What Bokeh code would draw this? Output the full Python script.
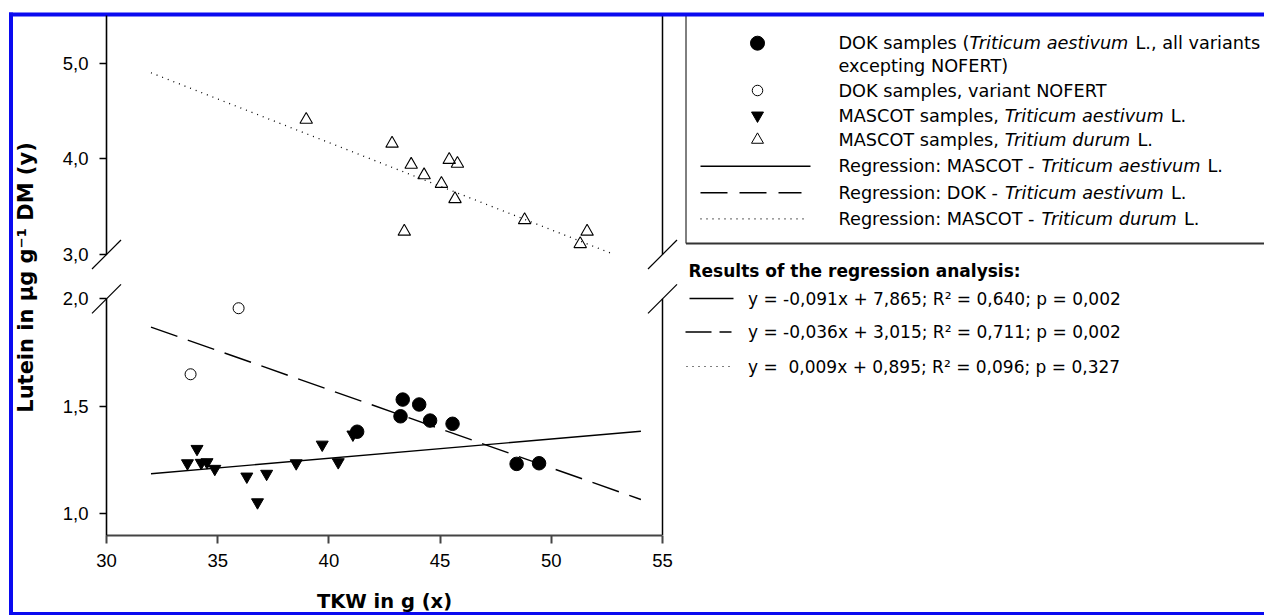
import math
from bokeh.plotting import figure
from bokeh.models import Range1d, LinearAxis, FixedTicker, CustomJSTickFormatter
from bokeh.core.properties import value
from bokeh.embed import file_html
from bokeh.resources import INLINE

# ---------------- data ----------------
x_ticks = [30, 35, 40, 45, 50, 55]
x_tick_labels = ["30", "35", "40", "45", "50", "55"]
y_ticks_lower = [1.0, 1.5, 2.0]
y_tick_labels_lower = ["1,0", "1,5", "2,0"]
y_ticks_upper = [3.0, 4.0, 5.0]
y_tick_labels_upper = ["3,0", "4,0", "5,0"]

# DOK samples (Triticum aestivum L., all variants excepting NOFERT)
dok_x = [43.32, 44.06, 43.22, 44.55, 45.56, 41.27, 48.44, 49.45]
dok_y = [1.530, 1.507, 1.452, 1.432, 1.417, 1.380, 1.230, 1.233]
# DOK samples, variant NOFERT
nofert_x = [35.94, 33.78]
nofert_y = [1.956, 1.648]
# MASCOT samples, Triticum aestivum L.
mascot_aest_x = [33.64, 34.07, 34.26, 34.52, 34.87, 36.31, 37.20, 36.79, 38.53, 39.70, 40.42, 41.08]
mascot_aest_y = [1.233, 1.300, 1.235, 1.238, 1.207, 1.171, 1.184, 1.051, 1.233, 1.320, 1.238, 1.367]
# MASCOT samples, Tritium durum L.
durum_x = [38.98, 42.84, 43.70, 44.28, 45.06, 45.41, 45.78, 45.67, 43.39, 48.80, 51.30, 51.61]
durum_y = [4.41, 4.16, 3.94, 3.83, 3.74, 3.99, 3.95, 3.58, 3.24, 3.36, 3.11, 3.24]

# regression lines (end points)
reg_aest_x = [32.0, 54.03]
reg_aest_y = [1.184, 1.382]
reg_dok_x = [32.0, 54.03]
reg_dok_y = [1.868, 1.064]
reg_durum_x = [32.0, 52.72]
reg_durum_y = [4.90, 3.01]

legend_rows = [
    [("DOK samples (", "normal"), ("Triticum aestivum", "italic"), (" L., all variants", "normal")],
    [("excepting NOFERT)", "normal")],
    [("DOK samples, variant NOFERT", "normal")],
    [("MASCOT samples, ", "normal"), ("Triticum aestivum", "italic"), (" L.", "normal")],
    [("MASCOT samples, ", "normal"), ("Tritium durum", "italic"), (" L.", "normal")],
    [("Regression: MASCOT - ", "normal"), ("Triticum aestivum", "italic"), (" L.", "normal")],
    [("Regression: DOK - ", "normal"), ("Triticum aestivum", "italic"), (" L.", "normal")],
    [("Regression: MASCOT - ", "normal"), ("Triticum durum", "italic"), (" L.", "normal")],
]
results_title = "Results of the regression analysis:"
results_lines = [
    "y = -0,091x + 7,865; R\u00b2 = 0,640; p = 0,002",
    "y = -0,036x + 3,015; R\u00b2 = 0,711; p = 0,002",
    "y = \u00a00,009x + 0,895; R\u00b2 = 0,096; p = 0,327",
]
y_title = "Lutein in \u00b5g g\u207b\u00b9 DM (y)"
x_title = "TKW in g (x)"

# ---------------- layout (pixels) ----------------
W, H = 1264, 615
PX_X30, PX_X55 = 106.0, 662.0
PX_Y1, PX_Y2 = 512.7, 298.3      # lower panel: 1.0 and 2.0
PX_Y3, PX_Y5 = 254.0, 62.7       # upper panel: 3.0 and 5.0
PX_AXIS_BOTTOM = 534.5
PX_TOP = 15.0
FONT = "DejaVu Sans"
TICK_FONT = "Liberation Sans"
BLUE = "#0a0af0"

kx = (PX_X55 - PX_X30) / 25.0
x_range = Range1d(30 - PX_X30 / kx, 30 + (W - PX_X30) / kx)

kl = (PX_Y1 - PX_Y2) / 1.0
def lower_val(py):
    return 1.0 + (PX_Y1 - py) / kl

ku = (PX_Y3 - PX_Y5) / 2.0
def upper_val(py):
    return 3.0 + (PX_Y3 - py) / ku

p = figure(width=W, height=H, x_range=x_range,
           y_range=Range1d(lower_val(H), lower_val(0)),
           output_backend="svg", toolbar_location=None, min_border=0,
           title=None, x_axis_type=None, y_axis_type=None)
p.extra_x_ranges = {"px": Range1d(0, W)}
p.extra_y_ranges = {"upper": Range1d(upper_val(H), upper_val(0)), "py": Range1d(H, 0)}
p.outline_line_color = None
p.background_fill_color = "white"
p.border_fill_color = "white"

fmt_code = "return tick.toFixed(1).replace('.', ',');"

def style_axis(ax, tick_out, color="black", width=1.6):
    ax.major_tick_out = tick_out
    ax.major_tick_in = 0
    ax.minor_tick_out = 0
    ax.minor_tick_in = 0
    ax.axis_line_width = width
    ax.axis_line_color = color
    ax.major_tick_line_width = width
    ax.major_tick_line_color = color
    ax.major_label_text_font = TICK_FONT
    ax.major_label_text_font_size = "18.5px"
    ax.major_label_text_color = "black"
    ax.major_label_standoff = 11

xax = LinearAxis(fixed_location=lower_val(PX_AXIS_BOTTOM), bounds=(30, 55),
                 ticker=FixedTicker(ticks=x_ticks),
                 major_label_overrides=dict(zip(x_ticks, x_tick_labels)))
style_axis(xax, 8, color="#444444", width=2)
p.add_layout(xax, "below")

ylo = LinearAxis(fixed_location=30, bounds=(lower_val(PX_AXIS_BOTTOM), 2.0),
                 ticker=FixedTicker(ticks=y_ticks_lower),
                 formatter=CustomJSTickFormatter(code=fmt_code),
                 major_label_overrides=dict(zip(y_ticks_lower, y_tick_labels_lower)))
style_axis(ylo, 7)
p.add_layout(ylo, "left")

yup = LinearAxis(y_range_name="upper", fixed_location=30, bounds=(3.0, upper_val(PX_TOP)),
                 ticker=FixedTicker(ticks=y_ticks_upper),
                 formatter=CustomJSTickFormatter(code=fmt_code),
                 major_label_overrides=dict(zip(y_ticks_upper, y_tick_labels_upper)))
style_axis(yup, 7)
p.add_layout(yup, "left")

# right frame lines of both panels
p.segment(x0=[55], y0=[lower_val(PX_AXIS_BOTTOM)], x1=[55], y1=[2.0], line_color="black", line_width=1.5)
p.segment(x0=[55], y0=[3.0], x1=[55], y1=[upper_val(PX_TOP)], y_range_name="upper",
          line_color="black", line_width=1.5)

# axis-break slashes
bx = [PX_X30, PX_X30, PX_X55, PX_X55]
by = [PX_Y3, PX_Y2, PX_Y3, PX_Y2]
p.segment(x0=[v - 14.5 for v in bx], y0=[v + 14.5 for v in by],
          x1=[v + 14.5 for v in bx], y1=[v - 14.5 for v in by],
          x_range_name="px", y_range_name="py", line_color="black", line_width=1.2)

# regression lines
p.line(reg_aest_x, reg_aest_y, line_color="black", line_width=1.4)
p.line(reg_dok_x, reg_dok_y, line_color="black", line_width=1.4, line_dash="28 11")
p.line(reg_durum_x, reg_durum_y, y_range_name="upper", line_color="black", line_width=1.3, line_dash="1 5")

# data points
p.scatter(mascot_aest_x, mascot_aest_y, marker="inverted_triangle", size=12,
          fill_color="black", line_color="black")
p.scatter(dok_x, dok_y, marker="circle", size=13.5, fill_color="black", line_color="black")
p.scatter(nofert_x, nofert_y, marker="circle", size=11, fill_color="white",
          line_color="black", line_width=1)
p.scatter(durum_x, durum_y, marker="triangle", size=12.5, fill_color=None,
          line_color="black", line_width=1.1, y_range_name="upper")

# ---------------- legend ----------------
CW = {'D': 1577, 'O': 1612, 'K': 1343, ' ': 651, 's': 1067, 'a': 1255, 'm': 1995, 'p': 1300,
      'l': 569, 'e': 1260, '(': 799, ')': 799, 'T': 1251, 'r': 842, 'i': 569, 't': 803,
      'c': 1126, 'u': 1298, 'v': 1212, ',': 651, 'n': 1298, 'x': 1212, 'N': 1532, 'F': 1178,
      'E': 1294, 'R': 1423, 'M': 1767, 'A': 1401, 'S': 1300, 'C': 1430, 'g': 1300, ':': 690,
      '-': 739, 'd': 1300, 'L': 1141, '.': 651, 'o': 1253, 'y': 1212}

def tw(s, size):
    return sum(CW.get(c, 1250) for c in s) / 2048.0 * size

LEG_SIZE = 17.7
LEG_TX = 838.0
leg_row_y = [42.7, 65.7, 90.0, 115.0, 139.3, 165.7, 192.3, 218.3]
seg = {"normal": ([], [], []), "italic": ([], [], [])}
for ry, row in zip(leg_row_y, legend_rows):
    cur = LEG_TX
    for s, style in row:
        lead = len(s) - len(s.lstrip(" "))
        xs, ys, ts = seg[style]
        xs.append(cur + tw(" " * lead, LEG_SIZE))
        ys.append(ry)
        ts.append(s.strip(" "))
        cur += tw(s, LEG_SIZE)
for style, (xs, ys, ts) in seg.items():
    p.text(x=xs, y=ys, text=ts, x_range_name="px", y_range_name="py",
           text_font=value(FONT), text_font_size="%.1fpx" % LEG_SIZE, text_font_style=style,
           text_align="left", text_baseline="middle", text_color="black")

MX = 757.0
p.scatter(x=[MX], y=[leg_row_y[0]], marker="circle", size=14, color="black",
          x_range_name="px", y_range_name="py")
p.scatter(x=[MX], y=[leg_row_y[2]], marker="circle", size=10.5, fill_color="white",
          line_color="black", line_width=1, x_range_name="px", y_range_name="py")
p.scatter(x=[MX], y=[leg_row_y[3]], marker="inverted_triangle", size=12, color="black",
          x_range_name="px", y_range_name="py")
p.scatter(x=[MX], y=[leg_row_y[4]], marker="triangle", size=12, fill_color=None,
          line_color="black", line_width=1, x_range_name="px", y_range_name="py")
p.line([700, 810], [leg_row_y[5]] * 2, x_range_name="px", y_range_name="py",
       line_color="black", line_width=1.4)
p.line([700, 801], [leg_row_y[6]] * 2, x_range_name="px", y_range_name="py",
       line_color="black", line_width=1.4, line_dash="27 12")
p.line([700, 808], [leg_row_y[7]] * 2, x_range_name="px", y_range_name="py",
       line_color="black", line_width=1.2, line_dash="1 5")

# legend box (left and bottom edges visible)
p.line([685.5, 685.5], [PX_TOP, 243], x_range_name="px", y_range_name="py",
       line_color="black", line_width=1)
p.line([685.5, W], [243, 243], x_range_name="px", y_range_name="py",
       line_color="#333333", line_width=2)

# ---------------- results block ----------------
p.text(x=[688], y=[270], text=[results_title], x_range_name="px", y_range_name="py",
       text_font=value(FONT), text_font_size="17px", text_font_style="bold",
       text_align="left", text_baseline="middle", text_color="black")
res_y = [298.0, 331.5, 366.0]
p.text(x=[747.5] * 3, y=res_y, text=results_lines, x_range_name="px", y_range_name="py",
       text_font=value(FONT), text_font_size="17px",
       text_align="left", text_baseline="middle", text_color="black")
p.line([689, 733], [res_y[0]] * 2, x_range_name="px", y_range_name="py",
       line_color="black", line_width=1.4)
p.line([685, 731], [res_y[1]] * 2, x_range_name="px", y_range_name="py",
       line_color="black", line_width=1.4, line_dash="26 8")
p.line([686, 731], [res_y[2]] * 2, x_range_name="px", y_range_name="py",
       line_color="black", line_width=1.2, line_dash="1 5")

# ---------------- axis titles ----------------
p.text(x=[25], y=[277], text=[y_title], angle=math.pi / 2, x_range_name="px", y_range_name="py",
       text_font=value(FONT), text_font_size="21px", text_font_style="bold",
       text_align="center", text_baseline="middle", text_color="black")
p.text(x=[384], y=[601], text=[x_title], x_range_name="px", y_range_name="py",
       text_font=value(FONT), text_font_size="19.5px", text_font_style="bold",
       text_align="center", text_baseline="alphabetic", text_color="black")

# ---------------- blue frame around the figure ----------------
p.quad(left=[8.5, 8.5, 8.5], right=[12.5, W, W], top=[12, 12, 611.5], bottom=[615, 16, 615],
       x_range_name="px", y_range_name="py", fill_color=BLUE, line_color=None)

with open("out.html", "w", encoding="utf-8") as f:
    f.write(file_html(p, INLINE))
